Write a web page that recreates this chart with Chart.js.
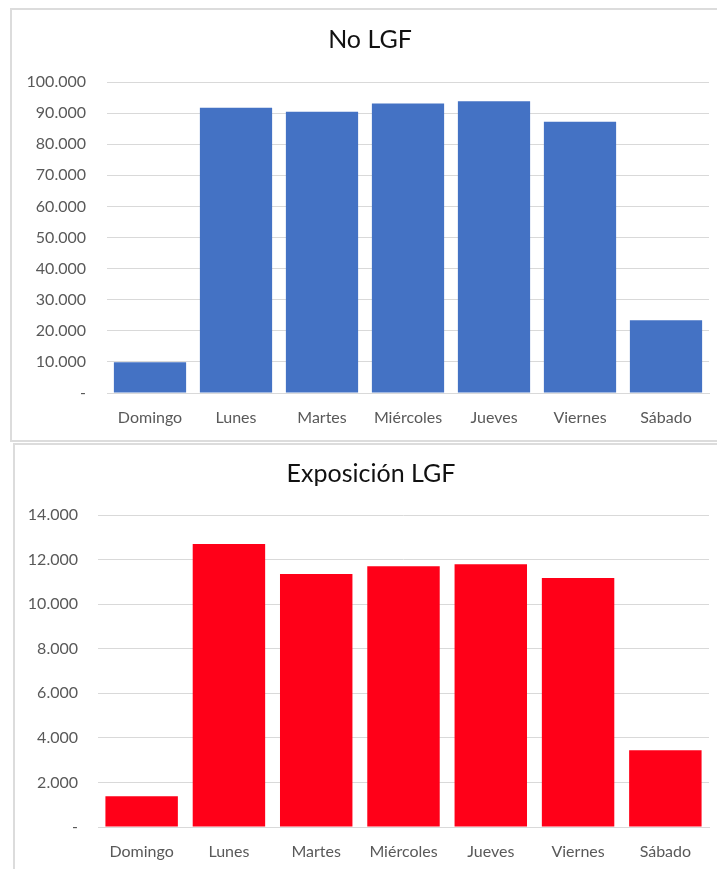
<!DOCTYPE html>
<html>
<head>
<meta charset="utf-8">
<script src="https://cdn.jsdelivr.net/npm/chart.js@4/dist/chart.umd.min.js"></script>
<style>
  html, body { margin: 0; padding: 0; background: #fff; overflow: hidden; }
  #page { width: 717px; height: 869px; position: relative; overflow: hidden; }
  .frame { position: absolute; border: 2px solid #dcdcdc; border-right: none; box-sizing: border-box; background: #fff; }
  #frameTop { left: 10px; top: 8px; width: 707px; height: 434px; }
  #frameBottom { left: 13px; top: 443px; width: 704px; height: 440px; }
  canvas { position: absolute; left: 0; }
  #cTop { top: 0; }
  #cBottom { top: 440px; }
</style>
</head>
<body>
<div id="page">
<div class="frame" id="frameTop"></div>
<div class="frame" id="frameBottom"></div>
<canvas id="cTop" width="717" height="440"></canvas>
<canvas id="cBottom" width="717" height="429"></canvas>
</div>
<script>
// Weekday categories shared by both panels
const dias = ['Domingo', 'Lunes', 'Martes', 'Miércoles', 'Jueves', 'Viernes', 'Sábado'];

// Visits without LGF, per weekday
const noLgf = [9900, 91700, 90450, 93100, 93800, 87200, 23400];

// LGF exposure, per weekday
const exposicionLgf = [1380, 12700, 11350, 11700, 11790, 11170, 3440];

// Axis ranges and steps
const ejeNoLgf = { max: 100000, step: 10000 };
const ejeExposicion = { max: 14000, step: 2000 };

const FONT = 'Lato, "Open Sans", "DejaVu Sans", sans-serif';
const GRID = '#d9d9d9';
const TEXT = '#595959';

// Thousands with a dot, zero shown as a dash
function miles(v) {
  if (v === 0) return '-';
  return String(v).replace(/\B(?=(\d{3})+(?!\d))/g, '.');
}

// Panel heading, centred on the framed box rather than on the canvas
const encabezado = {
  id: 'encabezado',
  afterDraw(chart, args, opts) {
    const ctx = chart.ctx;
    ctx.save();
    ctx.font = '25px ' + FONT;
    ctx.fillStyle = '#111';
    ctx.textAlign = 'center';
    ctx.textBaseline = 'middle';
    ctx.fillText(opts.text, opts.x, opts.y);
    ctx.restore();
  }
};

function panel(canvasId, title, values, color, axis, geom) {
  return new Chart(document.getElementById(canvasId), {
    type: 'bar',
    data: {
      labels: dias,
      datasets: [{
        data: values,
        backgroundColor: color,
        borderWidth: 0,
        barPercentage: geom.barPct,
        categoryPercentage: 1
      }]
    },
    plugins: [encabezado],
    options: {
      responsive: false,
      animation: false,
      devicePixelRatio: 1,
      layout: { padding: geom.padding },
      plugins: {
        legend: { display: false },
        tooltip: { enabled: false },
        title: { display: false },
        encabezado: { text: title, x: geom.titleX, y: geom.titleY }
      },
      scales: {
        x: {
          grid: { display: false, drawTicks: false },
          border: { display: true, color: GRID, width: 1 },
          ticks: { color: TEXT, font: { family: FONT, size: 16 }, padding: geom.xPad, maxRotation: 0 },
          afterFit: (s) => { s.height = geom.xHeight; }
        },
        y: {
          min: 0,
          max: axis.max,
          grid: { color: GRID, lineWidth: 1, drawTicks: false },
          border: { display: false },
          ticks: {
            stepSize: axis.step,
            color: TEXT,
            font: { family: FONT, size: 16 },
            padding: geom.yPad,
            callback: (v) => miles(v)
          },
          afterFit: (s) => { s.width = geom.yWidth; }
        }
      }
    }
  });
}

panel('cTop', 'No LGF', noLgf, '#4472C4', ejeNoLgf, {
  barPct: 0.84,
  padding: { left: 0, right: 8, top: 82, bottom: 0 },
  titleX: 370,
  titleY: 40,
  xPad: 15,
  xHeight: 47,
  yPad: 21,
  yWidth: 107
});

panel('cBottom', 'Exposición LGF', exposicionLgf, 'rgb(255,0,24)', ejeExposicion, {
  barPct: 0.83,
  padding: { left: 0, right: 8, top: 75, bottom: 0 },
  titleX: 371,
  titleY: 34,
  xPad: 15,
  xHeight: 42,
  yPad: 20,
  yWidth: 98
});
</script>
</body>
</html>
